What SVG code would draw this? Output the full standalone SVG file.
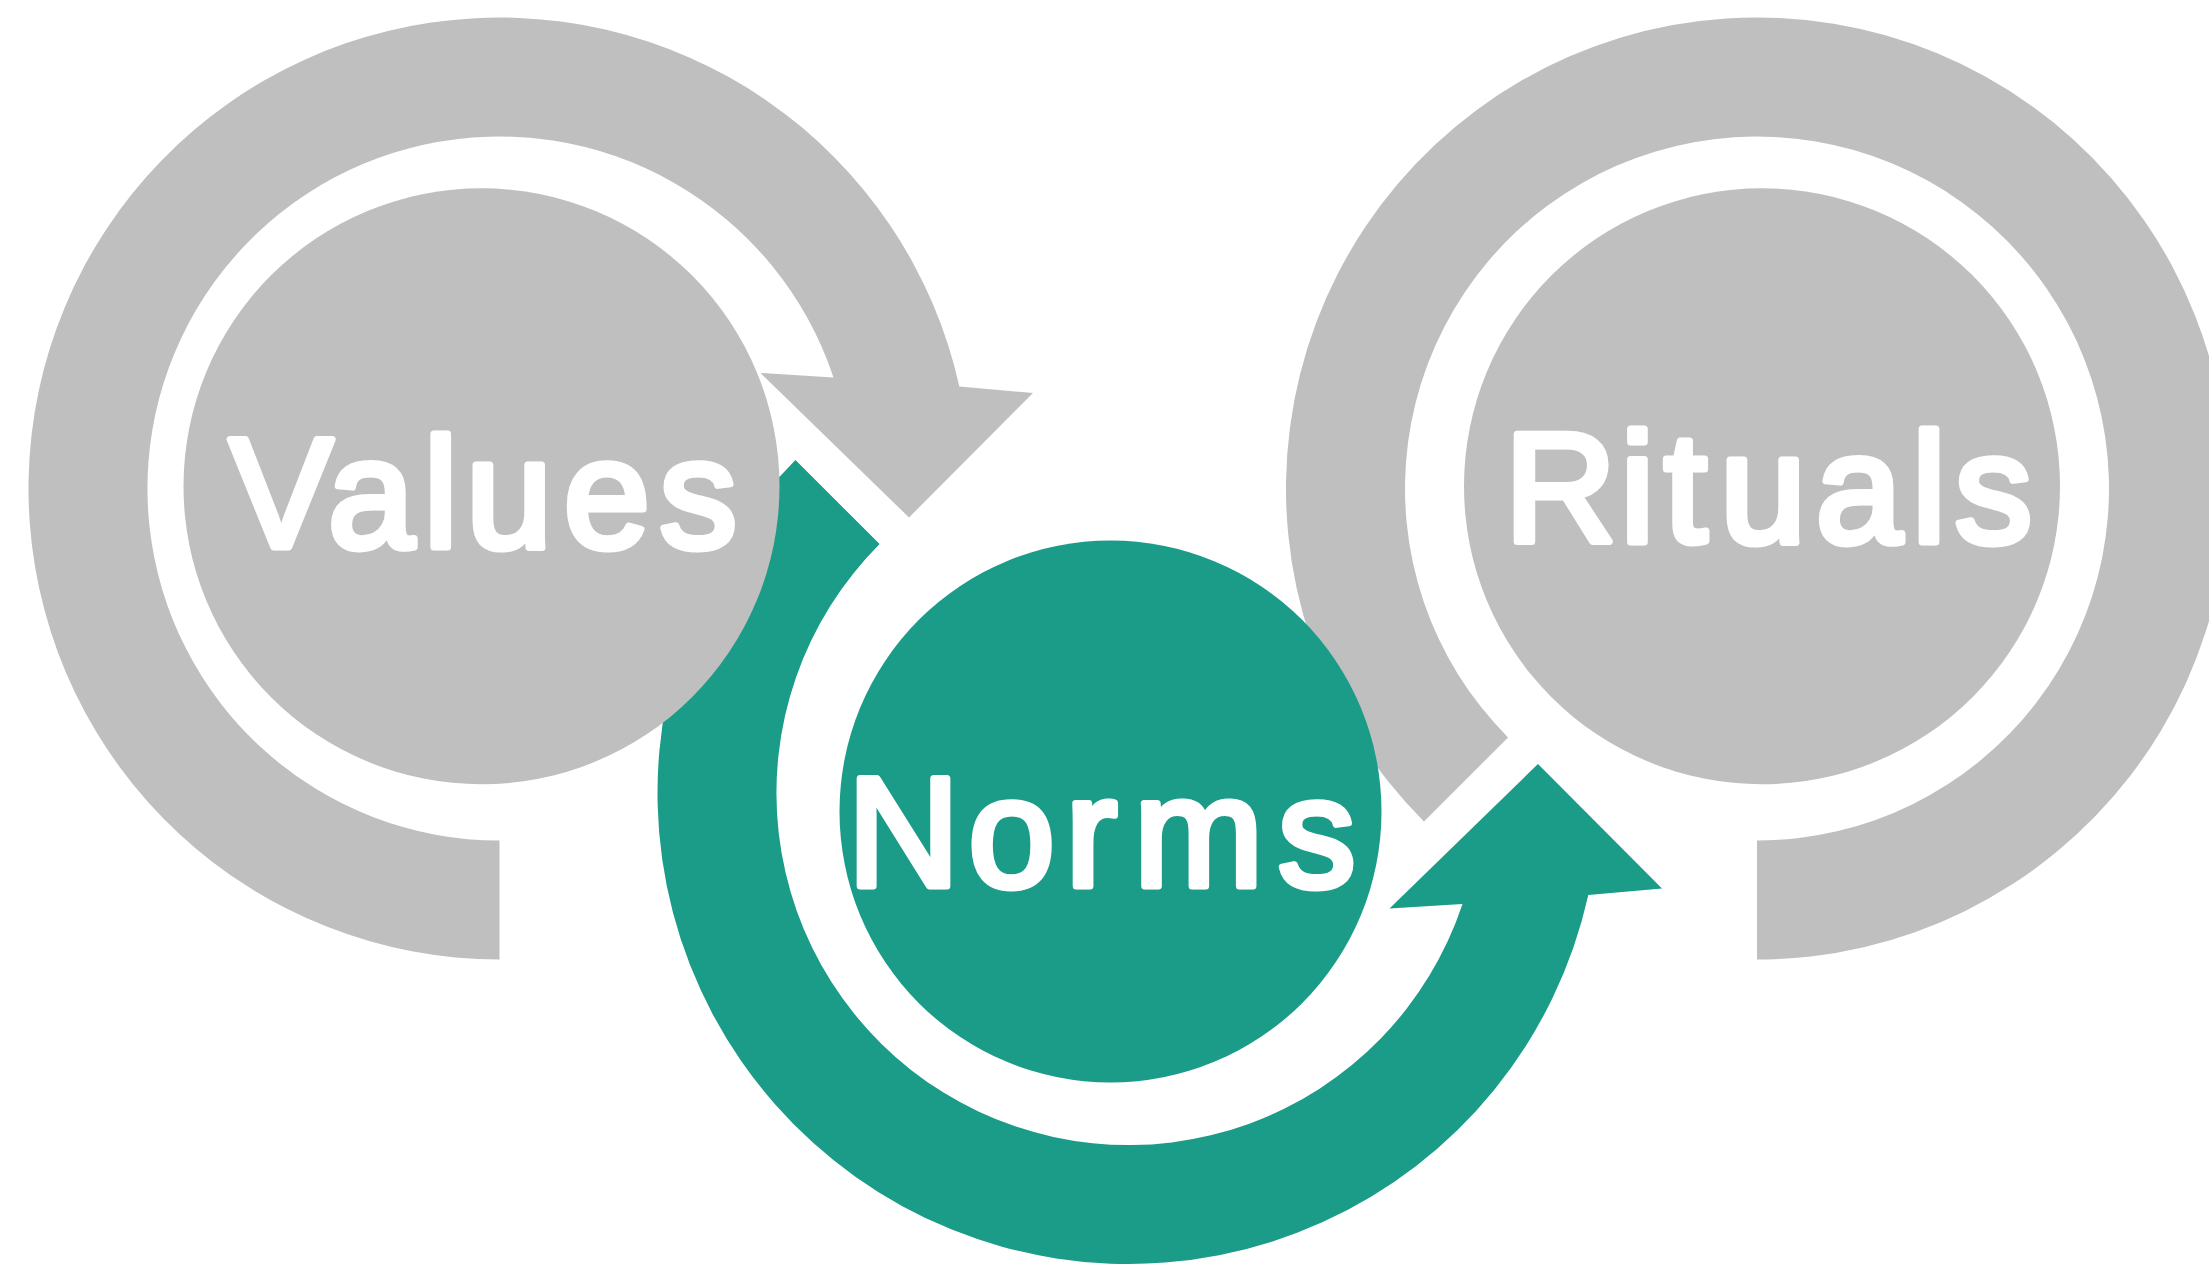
<svg xmlns="http://www.w3.org/2000/svg" width="2209" height="1265" viewBox="0 0 2209 1265">
<style>
.gray{fill:#BFBFBF}
.teal{fill:#1A9C88}
.lbl{font-family:"Liberation Sans",Arial,sans-serif;font-size:155px;fill:#FFFFFF;stroke:#FFFFFF;stroke-width:7;stroke-linejoin:round}
</style>
<rect width="2209" height="1265" fill="#FFFFFF"/>
<g id="connectors">
<path id="arc-values" class="gray" d="M 499.5 959.5 A 471 471 0 1 1 959.3 386.4 L 1033 393 L 909 517.5 L 760.5 373 L 833.5 377.5 A 352 352 0 1 0 499.5 840.5 Z"/>
<path id="arc-rituals" class="gray" d="M 1757 959.5 A 471 471 0 1 0 1423.95 821.55 L 1508.1 737.4 A 352 352 0 1 1 1757 840.5 Z"/>
<path id="arc-norms" class="teal" d="M 795.45 459.95 A 471 471 0 1 0 1588.3 895.1 L 1662 888.5 L 1538 764 L 1389.5 908.5 L 1462.5 904 A 352 352 0 1 1 879.6 544.1 Z"/>
</g>
<g id="node-values">
<circle class="gray" cx="481.5" cy="486.3" r="298"/>
<text class="lbl" x="229.6 327.9 423.6 466.1 563.8 659.4" y="547">Values</text>
</g>
<g id="node-rituals">
<circle class="gray" cx="1762" cy="486.3" r="298"/>
<text class="lbl" x="1504.5 1620.3 1663.9 1720 1815.8 1911.8 1954.8" y="542">Rituals</text>
</g>
<g id="node-norms">
<circle class="teal" cx="1110.5" cy="811.5" r="271"/>
<text class="lbl" x="847.4 968.4 1065.4 1134 1278" y="886.3">Norms</text>
</g>
</svg>
